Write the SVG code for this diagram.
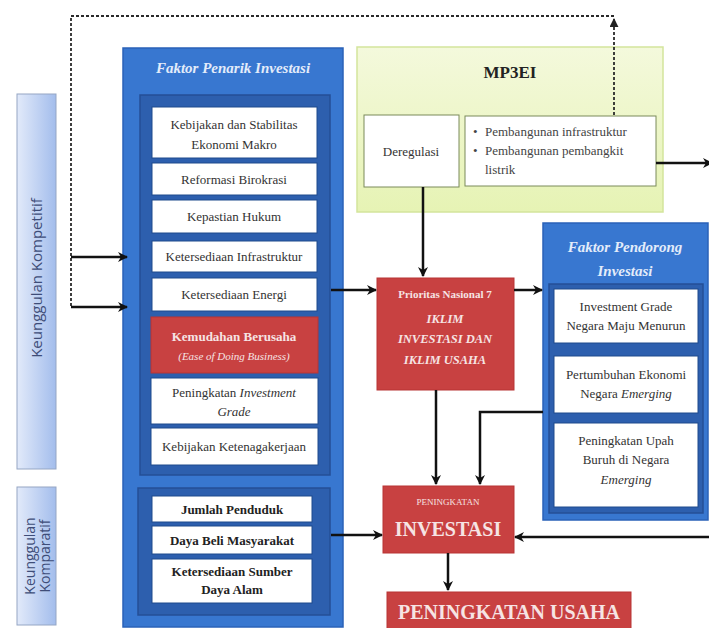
<svg xmlns="http://www.w3.org/2000/svg" width="709" height="628" viewBox="0 0 709 628">
  <defs>
    <linearGradient id="barFill" x1="0" y1="0" x2="1" y2="0">
      <stop offset="0" stop-color="#e2eafa"/>
      <stop offset="1" stop-color="#a3bdec"/>
    </linearGradient>
    <linearGradient id="greenFill" x1="0" y1="0" x2="0" y2="1">
      <stop offset="0" stop-color="#f4f9dc"/>
      <stop offset="1" stop-color="#e6f3b4"/>
    </linearGradient>
    <marker id="arrow" viewBox="0 0 10 10" refX="9" refY="5" markerWidth="4" markerHeight="4" orient="auto" markerUnits="strokeWidth">
      <path d="M0,0 L10,5 L0,10 L3,5 z" fill="#111"/>
    </marker>
    <marker id="arrowSmall" viewBox="0 0 10 10" refX="9" refY="5" markerWidth="5" markerHeight="5" orient="auto" markerUnits="strokeWidth">
      <path d="M0,0 L10,5 L0,10 z" fill="#222"/>
    </marker>
  </defs>
  <style>
    .serif { font-family: "Liberation Serif", "Times New Roman", serif; }
    .cell { fill: #ffffff; stroke: #1f4a8c; stroke-width: 1; }
    .cellText { font-family: "Liberation Serif", serif; font-size: 13px; fill: #333; text-anchor: middle; }
    .boldText { font-family: "Liberation Serif", serif; font-size: 13px; font-weight: bold; fill: #222; text-anchor: middle; }
    .outerBlue { fill: #3877d0; stroke: #2a62b8; stroke-width: 1.5; }
    .innerBlue { fill: #2d5fae; stroke: #244f96; stroke-width: 1.5; }
    .redBox { fill: #c84141; stroke: #b83434; stroke-width: 1; }
    .whiteText { fill: #f6e4e4; font-family: "Liberation Serif", serif; text-anchor: middle; }
    .titleText { fill: #e3ecfa; font-family: "Liberation Serif", serif; font-style: italic; font-weight: bold; text-anchor: middle; }
    .bar { fill: url(#barFill); stroke: #95a6c4; stroke-width: 1; }
    .barText { font-family: "Open Sans", "Liberation Sans", Arial, sans-serif; fill: #3e4d78; text-anchor: middle; }
    .conn { fill: none; stroke: #111; stroke-width: 2.5; }
    .dash { fill: none; stroke: #2a2a2a; stroke-width: 1.8; stroke-dasharray: 3 2; }
  </style>

  <!-- side labels -->
  <g id="keunggulan-kompetitif">
    <rect class="bar" x="17" y="94" width="39" height="375"/>
    <text class="barText" font-size="15" transform="translate(42,278) rotate(-90)">Keunggulan Kompetitif</text>
  </g>
  <g id="keunggulan-komparatif">
    <rect class="bar" x="17" y="487" width="39" height="138"/>
    <text class="barText" font-size="14" transform="translate(35,556) rotate(-90)">Keunggulan</text>
    <text class="barText" font-size="14" transform="translate(50,556) rotate(-90)">Komparatif</text>
  </g>

  <!-- Faktor Penarik Investasi -->
  <g id="faktor-penarik">
    <rect class="outerBlue" x="123" y="48" width="220" height="579"/>
    <text class="titleText" x="233" y="73" font-size="15">Faktor Penarik Investasi</text>
    <rect class="innerBlue" x="140" y="95" width="190" height="380"/>
    <rect class="innerBlue" x="138" y="488" width="192" height="127"/>
  </g>
  <g id="kebijakan-stabilitas">
    <rect class="cell" x="152" y="107" width="165" height="51"/>
    <text class="cellText" x="234" y="129">Kebijakan dan Stabilitas</text>
    <text class="cellText" x="234" y="149">Ekonomi Makro</text>
  </g>
  <g id="reformasi-birokrasi">
    <rect class="cell" x="152" y="163" width="165" height="32"/>
    <text class="cellText" x="234" y="184">Reformasi Birokrasi</text>
  </g>
  <g id="kepastian-hukum">
    <rect class="cell" x="152" y="200" width="165" height="33"/>
    <text class="cellText" x="234" y="221">Kepastian Hukum</text>
  </g>
  <g id="ketersediaan-infrastruktur">
    <rect class="cell" x="152" y="241" width="165" height="31"/>
    <text class="cellText" x="234" y="261" font-size="12.5">Ketersediaan Infrastruktur</text>
  </g>
  <g id="ketersediaan-energi">
    <rect class="cell" x="152" y="278" width="165" height="33"/>
    <text class="cellText" x="234" y="299">Ketersediaan Energi</text>
  </g>
  <g id="kemudahan-berusaha">
    <rect class="redBox" x="151" y="317" width="167" height="56"/>
    <text class="whiteText" x="234" y="341" font-size="13" font-weight="bold">Kemudahan Berusaha</text>
    <text class="whiteText" x="234" y="360" font-size="11" font-style="italic">(Ease of Doing Business)</text>
  </g>
  <g id="peningkatan-investment-grade">
    <rect class="cell" x="151" y="378" width="167" height="46"/>
    <text class="cellText" x="234" y="397">Peningkatan <tspan font-style="italic">Investment</tspan></text>
    <text class="cellText" x="234" y="416" font-style="italic">Grade</text>
  </g>
  <g id="kebijakan-ketenagakerjaan">
    <rect class="cell" x="151" y="428" width="167" height="37"/>
    <text class="cellText" x="234" y="451">Kebijakan Ketenagakerjaan</text>
  </g>
  <g id="jumlah-penduduk">
    <rect class="cell" x="152" y="496" width="160" height="26"/>
    <text class="boldText" x="232" y="514">Jumlah Penduduk</text>
  </g>
  <g id="daya-beli">
    <rect class="cell" x="152" y="526" width="160" height="28"/>
    <text class="boldText" x="232" y="545">Daya Beli Masyarakat</text>
  </g>
  <g id="sumber-daya-alam">
    <rect class="cell" x="152" y="559" width="160" height="44"/>
    <text class="boldText" x="232" y="576" font-size="11.5">Ketersediaan Sumber</text>
    <text class="boldText" x="232" y="594" font-size="11.5">Daya Alam</text>
  </g>

  <!-- MP3EI -->
  <g id="mp3ei">
    <rect x="357" y="47" width="306" height="165" fill="url(#greenFill)" stroke="#d3e59c" stroke-width="1.5"/>
    <text x="510" y="78" font-family="Liberation Serif, serif" font-size="17" font-weight="bold" fill="#222" text-anchor="middle">MP3EI</text>
  </g>
  <g id="deregulasi">
    <rect x="364" y="115" width="95" height="72" fill="#fff" stroke="#7a8a5a" stroke-width="1"/>
    <text class="cellText" x="411" y="156" font-size="14">Deregulasi</text>
  </g>
  <g id="pembangunan">
    <rect x="465" y="116" width="191" height="70" fill="#fff" stroke="#7a8a5a" stroke-width="1"/>
    <text class="serif" font-size="13" fill="#444" x="473" y="136">•</text>
    <text class="serif" font-size="13" fill="#444" x="485" y="136">Pembangunan infrastruktur</text>
    <text class="serif" font-size="13" fill="#444" x="473" y="155">•</text>
    <text class="serif" font-size="13" fill="#444" x="485" y="155">Pembangunan pembangkit</text>
    <text class="serif" font-size="13" fill="#444" x="485" y="174">listrik</text>
  </g>

  <!-- Prioritas Nasional 7 -->
  <g id="prioritas-nasional">
    <rect class="redBox" x="377" y="278" width="137" height="112"/>
    <text class="whiteText" x="445" y="298" font-size="11" font-weight="bold">Prioritas Nasional 7</text>
    <text class="whiteText" x="445" y="323" font-size="12.5" font-weight="bold" font-style="italic">IKLIM</text>
    <text class="whiteText" x="445" y="343" font-size="12.5" font-weight="bold" font-style="italic">INVESTASI DAN</text>
    <text class="whiteText" x="445" y="364" font-size="12.5" font-weight="bold" font-style="italic">IKLIM USAHA</text>
  </g>

  <!-- Faktor Pendorong Investasi -->
  <g id="faktor-pendorong">
    <rect class="outerBlue" x="543" y="223" width="165" height="297"/>
    <text class="titleText" x="625" y="252" font-size="15">Faktor Pendorong</text>
    <text class="titleText" x="625" y="276" font-size="15">Investasi</text>
    <rect class="innerBlue" x="549" y="284" width="154" height="229"/>
  </g>
  <g id="investment-grade">
    <rect class="cell" x="554" y="289" width="144" height="54"/>
    <text class="cellText" x="626" y="311">Investment Grade</text>
    <text class="cellText" x="626" y="330" font-size="12.5">Negara Maju Menurun</text>
  </g>
  <g id="pertumbuhan-ekonomi">
    <rect class="cell" x="554" y="356" width="144" height="57"/>
    <text class="cellText" x="626" y="379" font-size="12.5">Pertumbuhan Ekonomi</text>
    <text class="cellText" x="626" y="398">Negara <tspan font-style="italic">Emerging</tspan></text>
  </g>
  <g id="upah-buruh">
    <rect class="cell" x="554" y="423" width="144" height="84"/>
    <text class="cellText" x="626" y="445">Peningkatan Upah</text>
    <text class="cellText" x="626" y="464">Buruh di Negara</text>
    <text class="cellText" x="626" y="484" font-style="italic">Emerging</text>
  </g>

  <!-- Peningkatan Investasi / Usaha -->
  <g id="peningkatan-investasi">
    <rect class="redBox" x="383" y="486" width="131" height="67"/>
    <text class="whiteText" x="448" y="505" font-size="9">PENINGKATAN</text>
    <text class="whiteText" x="448" y="536" font-size="20" font-weight="bold">INVESTASI</text>
  </g>
  <g id="peningkatan-usaha">
    <rect class="redBox" x="387" y="592" width="244" height="40"/>
    <text class="whiteText" x="509" y="619" font-size="20" font-weight="bold">PENINGKATAN USAHA</text>
  </g>

  <!-- connectors -->
  <g id="connectors">
    <path class="dash" d="M614,115 V19" marker-end="url(#arrowSmall)"/>
    <path class="dash" d="M614,16 H71 V307"/>
    <path class="conn" stroke-width="2" d="M71,257 H127" marker-end="url(#arrow)"/>
    <path class="conn" stroke-width="2" d="M71,307 H127" marker-end="url(#arrow)"/>
    <path class="conn" d="M423,187 V276" marker-end="url(#arrow)"/>
    <path class="conn" d="M331,290 H376" marker-end="url(#arrow)"/>
    <path class="conn" d="M514,290 H542" marker-end="url(#arrow)"/>
    <path class="conn" d="M656,163 H712" marker-end="url(#arrow)"/>
    <path class="conn" d="M436,390 V484" marker-end="url(#arrow)"/>
    <path class="conn" d="M543,412 H480 V484" marker-end="url(#arrow)"/>
    <path class="conn" d="M331,535 H382" marker-end="url(#arrow)"/>
    <path class="conn" stroke-width="3.5" d="M709,537 H515" marker-end="url(#arrow)"/>
    <path class="conn" d="M448,553 V590" marker-end="url(#arrow)"/>
  </g>
</svg>
